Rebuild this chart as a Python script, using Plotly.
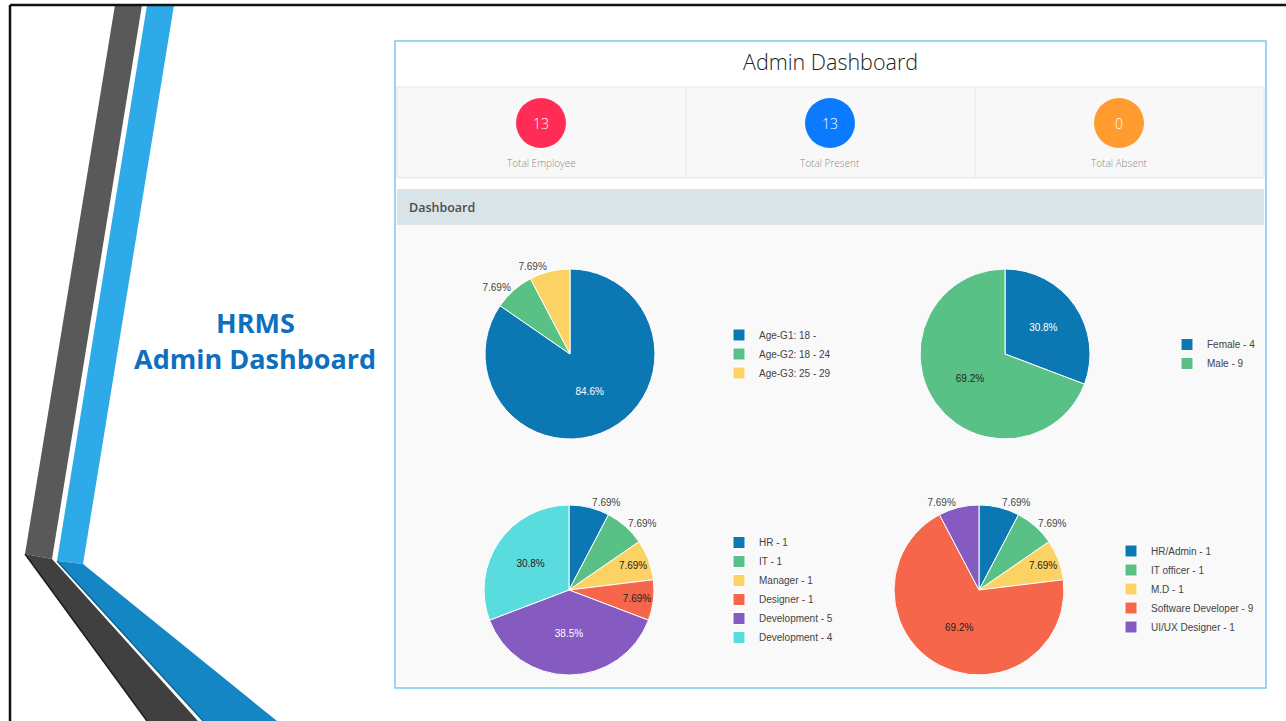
import plotly.graph_objects as go

W, H = 1286, 721

# ---------------- data ----------------
stat_labels = ["Total Employee", "Total Present", "Total Absent"]
stat_values = [13, 13, 0]
stat_colors = ["#ff2d55", "#0a7aff", "#ff9b2f"]

age_labels = ["Age-G1: 18 -", "Age-G2: 18 - 24", "Age-G3: 25 - 29"]
age_values = [11, 1, 1]

gender_labels = ["Female - 4", "Male - 9"]
gender_values = [4, 9]

dept_labels = ["HR - 1", "IT - 1", "Manager - 1", "Designer - 1",
               "Development - 5", "Development - 4"]
dept_values = [1, 1, 1, 1, 5, 4]

role_labels = ["HR/Admin - 1", "IT officer - 1", "M.D - 1",
               "Software Developer - 9", "UI/UX Designer - 1"]
role_values = [1, 1, 1, 9, 1]

# ---------------- styles ----------------
C_BLUE, C_GREEN, C_YELLOW = "#0b78b3", "#5ac186", "#fcd264"
C_RED, C_PURPLE, C_CYAN = "#f5664b", "#855ac1", "#5adcde"
OUT = "#444444"
DARK = "#222222"


def px(x):
    return x / W


def py(y):
    return 1 - y / H


def dom(cx, cy, r):
    return dict(x=[px(cx - r), px(cx + r)], y=[py(cy + r), py(cy - r)])


fig = go.Figure()

pies = [
    (age_labels, age_values, [C_BLUE, C_GREEN, C_YELLOW],
     ["inside", "outside", "outside"], ["white", OUT, OUT],
     (570, 354), "legend"),
    (gender_labels, gender_values, [C_BLUE, C_GREEN],
     ["inside", "inside"], ["white", DARK],
     (1005, 354), "legend2"),
    (dept_labels, dept_values, [C_BLUE, C_GREEN, C_YELLOW, C_RED, C_PURPLE, C_CYAN],
     ["outside", "outside", "inside", "inside", "inside", "inside"],
     [OUT, OUT, DARK, DARK, "white", DARK],
     (569, 590), "legend3"),
    (role_labels, role_values, [C_BLUE, C_GREEN, C_YELLOW, C_RED, C_PURPLE],
     ["outside", "outside", "inside", "inside", "outside"],
     [OUT, OUT, DARK, DARK, OUT],
     (979, 590), "legend4"),
]

for labels, values, colors, tpos, tcol, (cx, cy), leg in pies:
    fig.add_trace(go.Pie(
        labels=labels, values=values, sort=False, direction="clockwise",
        rotation=0, domain=dom(cx, cy, 85),
        marker=dict(colors=colors, line=dict(color="white", width=1)),
        textinfo="percent", textposition=tpos,
        insidetextorientation="horizontal",
        textfont=dict(family="Liberation Sans, Arial", size=10, color=tcol),
        legend=leg, hoverinfo="label+percent",
    ))

legend_common = dict(bgcolor="rgba(0,0,0,0)", xanchor="left", yanchor="middle",
                     font=dict(family="Liberation Sans, Arial", size=10, color=OUT),
                     itemclick=False, itemdoubleclick=False)

# ---------------- decoration shapes ----------------
shapes = []


def poly(pts, fill, layer="below"):
    d = "M" + " L".join(f"{x},{y}" for x, y in pts) + " Z"
    shapes.append(dict(type="path", path=d, xref="x", yref="y",
                       fillcolor=fill, line=dict(width=0), layer=layer))


def rect(x0, y0, x1, y1, fill, line_color=None, lw=0):
    shapes.append(dict(type="rect", x0=x0, y0=y0, x1=x1, y1=y1, xref="x", yref="y",
                       fillcolor=fill, layer="below",
                       line=dict(color=line_color or fill, width=lw)))


def line(x0, y0, x1, y1, color, lw):
    shapes.append(dict(type="line", x0=x0, y0=y0, x1=x1, y1=y1, xref="x", yref="y",
                       line=dict(color=color, width=lw), layer="below"))


# left ribbons
poly([(115, 5), (142, 5), (52, 559), (25, 554)], "#595959")
poly([(147, 5), (174, 5), (83, 564), (57, 561)], "#2eaae9")
poly([(25, 554), (52, 559), (198, 721), (147, 721)], "#404040")
line(25, 554, 147, 721, "#1c1c1c", 1.5)
poly([(57, 561), (83, 564), (277, 721), (203, 721)], "#1486c4")
line(57, 561, 203, 721, "#0b5e8a", 1.2)

# slide border
line(10, 5, 1286, 5, "#111111", 2.5)
line(10, 5, 10, 721, "#111111", 2.5)

# dashboard panel
rect(395, 41, 1266, 688, "#ffffff", "#7cc7ef", 1.5)
rect(397, 87, 1264, 178, "#f8f8f8", "#e6e6e6", 1)
line(686, 87, 686, 178, "#e6e6e6", 1)
line(975, 87, 975, 178, "#e6e6e6", 1)
rect(397, 189, 1264, 225, "#d8e4e8")
rect(397, 225, 1264, 686, "#f9f9f9")

annotations = []
stat_x = [541, 830, 1119]
for sx, val, lab, col in zip(stat_x, stat_values, stat_labels, stat_colors):
    shapes.append(dict(type="circle", x0=sx - 25, x1=sx + 25, y0=98, y1=148,
                       xref="x", yref="y", fillcolor=col, line=dict(width=0),
                       layer="below"))
    annotations.append(dict(x=sx, y=123, xref="x", yref="y", text=str(val),
                            showarrow=False,
                            font=dict(family="Open Sans", size=14, color="white",
                                      weight=300)))
    annotations.append(dict(x=sx, y=163, xref="x", yref="y", text=lab,
                            showarrow=False,
                            font=dict(family="Open Sans", size=10, color="#8a8a8a",
                                      weight=300)))

annotations += [
    dict(x=830, y=61, xref="x", yref="y", text="Admin Dashboard", showarrow=False,
         font=dict(family="Open Sans", size=21.5, color="#222222", weight=300)),
    dict(x=407, y=207, xref="x", yref="y", text="Dashboard", showarrow=False,
         xanchor="left",
         font=dict(family="Open Sans", size=12.5, color="#4d4d4d", weight=600)),
    dict(x=255, y=322, xref="x", yref="y", text="HRMS", showarrow=False,
         font=dict(family="Open Sans", size=27, color="#0f6fbf", weight="bold")),
    dict(x=255, y=358, xref="x", yref="y", text="Admin Dashboard", showarrow=False,
         font=dict(family="Open Sans", size=27, color="#0f6fbf", weight="bold")),
]

fig.update_layout(
    width=W, height=H, autosize=False,
    margin=dict(l=0, r=0, t=0, b=0),
    paper_bgcolor="white", plot_bgcolor="white",
    xaxis=dict(range=[0, W], visible=False, showgrid=False, zeroline=False,
               fixedrange=True, domain=[0, 1]),
    yaxis=dict(range=[H, 0], visible=False, showgrid=False, zeroline=False,
               fixedrange=True, domain=[0, 1]),
    shapes=shapes, annotations=annotations,
    showlegend=True,
    legend=dict(x=px(719), y=py(354), **legend_common),
    legend2=dict(x=px(1167), y=py(354), **legend_common),
    legend3=dict(x=px(719), y=py(590), **legend_common),
    legend4=dict(x=px(1111), y=py(589), **legend_common),
)

fig.write_html("out.html",
               config={"displayModeBar": False},
               post_script="document.body.style.margin='0';document.body.style.overflow='hidden';")
